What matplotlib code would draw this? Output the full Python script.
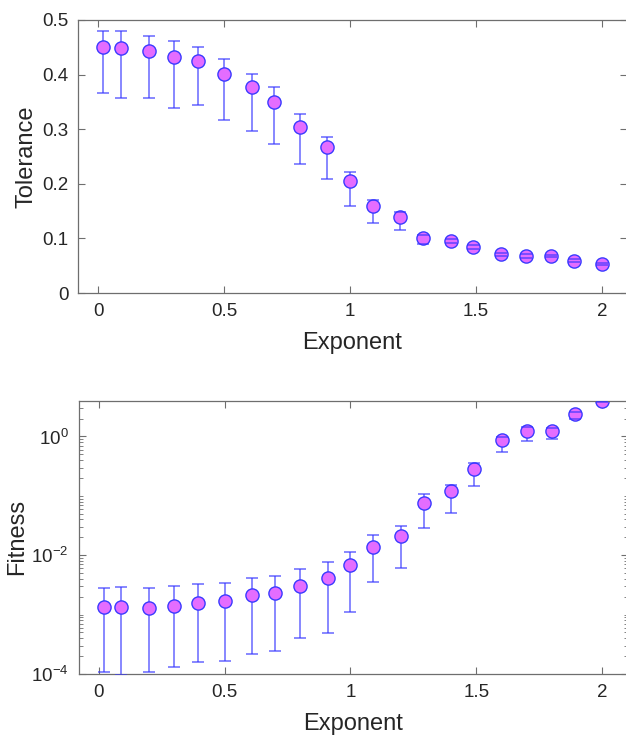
import numpy as np
import matplotlib
matplotlib.use('Agg')
import matplotlib.pyplot as plt
from matplotlib.ticker import LogLocator, FixedLocator, NullFormatter

plt.rcParams['font.family'] = ['Liberation Sans', 'DejaVu Sans']
plt.rcParams['mathtext.fontset'] = 'custom'
plt.rcParams['mathtext.rm'] = 'Liberation Sans'
plt.rcParams['mathtext.it'] = 'Liberation Sans'
plt.rcParams['mathtext.default'] = 'regular'

# exponent values
exponent = [0.02, 0.09, 0.2, 0.3, 0.395, 0.5, 0.61, 0.7, 0.8, 0.91, 1.0,
            1.09, 1.2, 1.29, 1.4, 1.49, 1.6, 1.7, 1.8, 1.89, 2.0]

# tolerance: centre, upper and lower ends of the error bars
tol = [0.451, 0.448, 0.444, 0.432, 0.424, 0.402, 0.377, 0.349, 0.304, 0.267, 0.205,
       0.159, 0.139, 0.101, 0.095, 0.084, 0.071, 0.068, 0.068, 0.059, 0.053]
tol_hi = [0.480, 0.479, 0.471, 0.462, 0.451, 0.428, 0.402, 0.377, 0.327, 0.286, 0.222,
          0.171, 0.148, 0.107, 0.099, 0.087, 0.074, 0.071, 0.070, 0.062, 0.055]
tol_lo = [0.366, 0.358, 0.358, 0.338, 0.344, 0.317, 0.296, 0.273, 0.236, 0.208, 0.160,
          0.129, 0.115, 0.090, 0.092, 0.081, 0.068, 0.065, 0.066, 0.056, 0.051]

# fitness: centre, upper and lower ends of the error bars
fit = [1.36e-3, 1.35e-3, 1.30e-3, 1.42e-3, 1.59e-3, 1.72e-3, 2.15e-3, 2.3e-3, 3.08e-3,
       4.2e-3, 6.8e-3, 1.40e-2, 2.1e-2, 7.65e-2, 0.119, 0.283, 0.873, 1.22, 1.22, 2.42, 3.9]
fit_hi = [2.8e-3, 2.97e-3, 2.8e-3, 3.08e-3, 3.26e-3, 3.43e-3, 4.1e-3, 4.4e-3, 5.8e-3,
          7.7e-3, 1.15e-2, 2.18e-2, 3.13e-2, 0.106, 0.154, 0.352, 0.98, 1.42, 1.40, 2.6, 4.0]
fit_lo = [1.07e-4, 9.8e-5, 1.07e-4, 1.31e-4, 1.61e-4, 1.65e-4, 2.15e-4, 2.44e-4, 4.0e-4,
          4.97e-4, 1.1e-3, 3.6e-3, 6.05e-3, 2.93e-2, 5.1e-2, 0.144, 0.555, 0.85, 0.92, 1.97, 3.8]

face = '#e46dff'
edge = '#3a3aff'
barc = '#3535ff'
axc = '#6e6e6e'
txt = '#262626'

fig = plt.figure(figsize=(6.26, 7.36), dpi=100)
ax1 = fig.add_axes([78 / 626, 1 - 293 / 736, 549 / 626, 273 / 736])
ax2 = fig.add_axes([78.5 / 626, 1 - 674 / 736, 549 / 626, 273.3 / 736])


def draw(ax, y, lo, hi):
    y = np.array(y)
    err = [y - np.array(lo), np.array(hi) - y]
    ax.plot(exponent, y, 'o', ms=9.5, mfc=face, mec=edge, mew=1.0, zorder=2)
    eb = ax.errorbar(exponent, y, yerr=err, fmt='none', ecolor=barc, elinewidth=1.1,
                     capsize=4, capthick=1.1, alpha=0.75)
    # vertical bars behind the markers, caps on top
    for c in eb[2]:
        c.set_zorder(1)
    for c in eb[1]:
        c.set_zorder(3)
    ax.set_xlim(-0.08, 2.1)
    ax.set_xticks([0, 0.5, 1, 1.5, 2])
    ax.set_xticklabels(['0', '0.5', '1', '1.5', '2'])
    ax.tick_params(direction='in', top=True, right=True, length=5, width=0.8,
                   colors=axc, labelcolor=txt, labelsize=13.5, pad=7)
    for s in ax.spines.values():
        s.set_color(axc)
        s.set_linewidth(0.9)
    ax.set_xlabel('Exponent', fontsize=17, color=txt, labelpad=9)


draw(ax1, tol, tol_lo, tol_hi)
ax1.set_ylim(0, 0.5)
ax1.set_yticks([0, 0.1, 0.2, 0.3, 0.4, 0.5])
ax1.set_yticklabels(['0', '0.1', '0.2', '0.3', '0.4', '0.5'])
ax1.set_ylabel('Tolerance', fontsize=17, color=txt, labelpad=3)

draw(ax2, fit, fit_lo, fit_hi)
ax2.set_yscale('log')
ax2.set_ylim(1e-4, 4)
ax2.yaxis.set_major_locator(FixedLocator([1e-4, 1e-2, 1e0]))
ax2.set_yticklabels(['$10^{-4}$', '$10^{-2}$', '$10^{0}$'])
ax2.yaxis.set_minor_locator(LogLocator(base=10, subs=np.arange(1, 10), numticks=20))
ax2.yaxis.set_minor_formatter(NullFormatter())
ax2.tick_params(which='minor', direction='in', right=True, length=3, width=0.6, colors=axc)
ax2.set_ylabel('Fitness', fontsize=17, color=txt, labelpad=2)

fig.savefig('out.png', dpi=100)
